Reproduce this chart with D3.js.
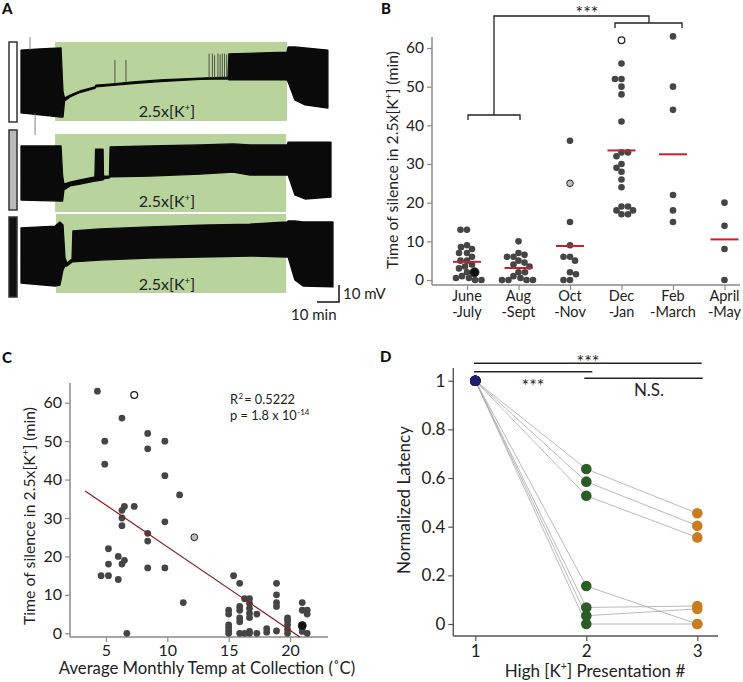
<!DOCTYPE html>
<html><head><meta charset="utf-8">
<script src="https://cdn.jsdelivr.net/npm/d3@7"></script>
<style>
body{margin:0;background:#fff;}
svg{display:block;font-family:Lato,"Open Sans",sans-serif;}
</style></head><body>
<svg id="fig" width="743" height="682"></svg>
<script>
// ---------------- Panel A data: envelopes [time (min), upper (mV), lower (mV)]
const traceSummer = [[0,-5.9,-42.9],[8.6,-5.3,-44.1],[18.2,-4.7,-45.3],[19.1,-30.6,-45.3],[19.8,-34.1,-35.9],[22.3,-32.4,-33.5],[26.8,-30.0,-30.9],[33.6,-27.6,-28.5],[34.1,-26.5,-27.6],[40.5,-25.9,-26.8],[50.9,-24.7,-25.6],[63.2,-23.5,-24.4],[81.4,-22.4,-23.2],[94.1,-21.8,-22.9],[94.5,-8.2,-23.5],[120.9,-7.1,-23.5],[121.4,-4.1,-24.7],[124.5,-4.1,-35.3],[129.1,-4.7,-38.2],[139.5,-5.9,-40]];
const traceAutumn = [[0,-9.4,-41.2],[18.2,-9.4,-41.8],[18.9,-26.5,-41.8],[19.5,-31.8,-35.3],[22.3,-30.6,-32.9],[26.8,-29.4,-31.8],[33.6,-27.6,-30.0],[33.9,-11.2,-30.0],[37.3,-11.2,-29.4],[37.5,-27.1,-28.8],[40.2,-27.1,-28.2],[40.5,-10,-27.6],[58.6,-9.4,-27.1],[81.4,-8.8,-25.9],[96.4,-8.2,-24.7],[104.1,-8.8,-26.5],[120.9,-8.8,-26.5],[121.4,-7.1,-26.5],[124.5,-7.1,-38.2],[129.1,-7.1,-40.6],[140.9,-7.1,-39.4]];
const traceWinter = [[0,-8.2,-40.6],[15.5,-7.1,-42.4],[17.7,-4.7,-41.8],[19.1,-6.5,-32.9],[20,-25.9,-30.6],[20.9,-28.8,-30.6],[23.2,-26.5,-28.2],[23.6,-10,-28.2],[35.9,-8.8,-27.1],[58.6,-7.6,-25.9],[81.4,-6.5,-25.3],[104.1,-5.9,-24.7],[120.9,-4.7,-25.3],[121.4,-4.1,-25.3],[124.5,-4.1,-38.8],[128.2,-4.7,-42.4],[141.8,-4.7,-42.9]];
const spikesSummer = [[4.1,1.8,-6],[6.4,-43,-55.9],[42.7,-11.8,-25.9],[47.7,-11.8,-25.3],[85.5,-8,-22.5],[87,-8,-22.5],[88,-9,-22.5],[89.5,-8,-22.5],[90.5,-8.5,-22.5],[91.5,-8,-22.5],[92.5,-8,-22.5],[93.5,-8.5,-22.5]];
const perfusionWindows = [[15.5,120.9],[15.5,120.5],[15.9,120.5]];

// ---------------- Panel B data
const categoriesB = ["June-July","Aug-Sept","Oct-Nov","Dec-Jan","Feb-March","April-May"];
const silenceJuneJuly = [13,13,9,8.5,8,7,7,6,5,5,4,3.5,3,2,1,0.5,0.5,0,0];
const silenceAugSept = [10,7,6.5,6,6,5,4.5,4,3.5,2,2,1,0.5,0,0,0,0];
const silenceOctNov = [36,15,9,6,6,5,2,1.5,0,0];
const silenceDecJan = [56,52,52,50,48,41,33,33,32,30,29,28,26,24,19,19,18,18,17,17];
const silenceFebMarch = [63,50,44,22,18,15];
const silenceAprilMay = [20,14,8,0];
const groupMeans = [4.7,3.1,8.8,33.5,32.5,10.5];
const highlightGroups = ["June-July","Oct-Nov","Dec-Jan"];
const highlightValues = [2,25,62];
const highlightKinds = ["black","gray","open"];
const yTicksB = [0,10,20,30,40,50,60];

// ---------------- Panel C data
const tempC = [4.3,6.3,8.4,4.9,9.8,8.4,4.9,9.8,11.0,6.5,6.3,7.3,6.3,6.3,8.4,9.8,8.4,5.2,6.0,6.5,5.2,6.3,8.4,9.8,4.6,5.2,6.0,11.3,6.7,
 15.4,15.9,15.0,15.0,15.0,15.0,15.0,15.0,15.9,15.9,15.9,15.9,15.9,16.3,16.3,16.7,16.7,16.7,16.7,16.7,16.7,16.7,17.3,17.3,18.1,18.1,18.9,18.9,18.9,18.9,18.9,19.8,19.8,19.8,19.8,19.8,21.0,21.0,21.0,21.0,21.4,21.4,21.4];
const silenceC = [63,56,52,50,50,48,44,41,36,33,32,33,30,28,26,29,24,22,20,19,18,18,17,17,15,15,14,8,0,
 15,13,6,5,2.2,1.5,0.7,0,7,6,4,3,0,9,0,9,7.8,6.5,5.2,4.1,0.5,0,5,0,1.2,0.3,13,10,8,7,0.6,4,3.2,2.2,1,0,8,6,1.5,0.5,6,5,0];
const highlightTempC = [21.0,12.2,7.3];
const highlightSilenceC = [2,25,62];
const regression = {slope:-2.17, intercept:44.2, from:3.3, to:20.8};
const xTicksC = [5,10,15,20];
const yTicksC = [0,10,20,30,40,50,60];

// ---------------- Panel D data
const presentations = [1,2,3];
const latencyP1 = [1,1,1,1,1,1,1];
const latencyP2 = [0.637,0.585,0.527,0.156,0.068,0.034,0];
const latencyP3 = [0.455,0.404,0.356,0,0.074,0.062,0];
const yTicksD = [0,0.2,0.4,0.6,0.8,1];

// =====================================================
const svg = d3.select("#fig");
const TXT = "#222";
function addK(t, before, after, size){
  t.append("tspan").text(before + "[K");
  t.append("tspan").attr("dy", -size*0.4).attr("font-size", size*0.62).text("+");
  t.append("tspan").attr("dy", size*0.4).text("]" + after);
}
function panelLabel(txt,x,y){
  svg.append("text").attr("x",x).attr("y",y).attr("font-weight",900).attr("font-size",15).attr("fill","#111").text(txt);
}
panelLabel("A",2,14); panelLabel("B",381,14); panelLabel("C",2,363); panelLabel("D",380,362);

// ---------------- Panel A
const gA = svg.append("g");
const xA = d3.scaleLinear().domain([0,140]).range([21,329]);
const rowTops = [40,130,214];
const greenY = [[42,121],[134,212],[214,293]];
const barY = [[42,122],[130,210],[217,297]];
const barFill = ["#fff","#bbb","#111"];
const traces = [traceSummer, traceAutumn, traceWinter];
const labelBase = [117,207,290];
traces.forEach((tr,i)=>{
  const yA = d3.scaleLinear().domain([0,-50]).range([rowTops[i], rowTops[i]+85]);
  gA.append("rect").attr("x",xA(perfusionWindows[i][0])).attr("y",greenY[i][0])
    .attr("width",xA(perfusionWindows[i][1])-xA(perfusionWindows[i][0])).attr("height",greenY[i][1]-greenY[i][0])
    .attr("fill","#b9d39c");
  gA.append("rect").attr("x",9).attr("y",barY[i][0]).attr("width",8).attr("height",barY[i][1]-barY[i][0])
    .attr("fill",barFill[i]).attr("stroke","#333").attr("stroke-width",1.5);
  const area = d3.area().x(d=>xA(d[0])).y0(d=>yA(d[2])).y1(d=>yA(d[1]));
  gA.append("path").datum(tr).attr("d",area).attr("fill","#0a0a0a").attr("stroke","#0a0a0a").attr("stroke-width",1.3).attr("stroke-linejoin","round");
  if(i===0){
    gA.selectAll(".spk").data(spikesSummer).join("line")
      .attr("x1",d=>xA(d[0])).attr("x2",d=>xA(d[0])).attr("y1",d=>yA(d[1])).attr("y2",d=>yA(d[2]))
      .attr("stroke",(d,j)=>j<2?"#666":"#333").attr("stroke-width",0.8);
  }
  const t = gA.append("text").attr("x",167).attr("y",labelBase[i]).attr("text-anchor","middle").attr("font-size",16).attr("fill",TXT);
  addK(t,"2.5x","",16);
});
// scale bar (10 min x 10 mV)
{
  const yS = d3.scaleLinear().domain([0,-50]).range([0,85]);
  const bx = 339, by = 302;
  const w = xA(10)-xA(0), h = yS(-10)-yS(0);
  gA.append("path").attr("d",`M${bx-w},${by}H${bx}V${by-h}`).attr("fill","none").attr("stroke","#111").attr("stroke-width",1.5);
  gA.append("text").attr("x",bx+4).attr("y",by-3).attr("font-size",15).attr("fill",TXT).text("10 mV");
  gA.append("text").attr("x",291).attr("y",320).attr("font-size",15).attr("fill",TXT).text("10 min");
}

// ---------------- Panel B
const gB = svg.append("g");
const xB = d3.scalePoint().domain(categoriesB).range([467,724.5]);
const yB = d3.scaleLinear().domain([0,60]).range([280,48]);
const axisGray = "#8a8a8a";
gB.append("line").attr("x1",432).attr("x2",432).attr("y1",285).attr("y2",37).attr("stroke",axisGray).attr("stroke-width",1.5);
gB.append("line").attr("x1",432).attr("x2",740).attr("y1",285).attr("y2",285).attr("stroke",axisGray).attr("stroke-width",1.5);
const ayB = gB.append("g").attr("transform","translate(432,0)").call(d3.axisLeft(yB).tickValues(yTicksB).tickSize(5).tickPadding(3));
ayB.select(".domain").remove();
ayB.selectAll("line").attr("stroke",axisGray).attr("stroke-width",1.2);
ayB.selectAll("text").attr("font-size",15.5).attr("fill",TXT).attr("font-family","Lato");
const axB = gB.append("g").attr("transform","translate(0,285)").call(d3.axisBottom(xB).tickSize(5));
axB.select(".domain").remove();
axB.selectAll("line").attr("stroke",axisGray).attr("stroke-width",1.2);
axB.selectAll("text").remove();
categoriesB.forEach(c=>{
  const parts = c.split("-");
  const t = gB.append("text").attr("text-anchor","middle").attr("font-size",14.5).attr("fill",TXT);
  t.append("tspan").attr("x",xB(c)).attr("y",301).text(parts[0]);
  t.append("tspan").attr("x",xB(c)).attr("y",317).text("-"+parts[1]);
});
{
  const t = gB.append("text").attr("transform","translate(398,160) rotate(-90)").attr("text-anchor","middle").attr("font-size",15.8).attr("fill",TXT);
  addK(t,"Time of silence in 2.5x"," (min)",15.8);
}
// beeswarm layout
const groupsB = [silenceJuneJuly,silenceAugSept,silenceOctNov,silenceDecJan,silenceFebMarch,silenceAprilMay];
const rB = 3.3;
const placedB = [];
categoriesB.forEach((cat,gi)=>{
  const pts = groupsB[gi].map(v=>({v,kind:"normal"}));
  highlightGroups.forEach((hg,hi)=>{ if(hg===cat) pts.push({v:highlightValues[hi],kind:highlightKinds[hi]}); });
  pts.sort((a,b)=>b.v-a.v);
  const cx = xB(cat); const placed=[];
  pts.forEach((p,k)=>{
    const py = yB(p.v); const rr = p.kind==="black"?4.5:rB;
    let off = 0, found=false;
    for(let s=0;s<40 && !found;s+=0.5){
      const cands = (k%2===0)?[s,-s]:[-s,s];
      for(const o of cands){
        if(placed.every(q=>Math.hypot(q.x-(cx+o),q.y-py) >= (q.r+rr)*0.92)){ off=o; found=true; break; }
      }
    }
    const obj={x:cx+off,y:py,r:rr,kind:p.kind};
    placed.push(obj); placedB.push(obj);
  });
});
const fillFor = k=> k==="black"?"#111": k==="gray"?"#bdbdbd": k==="open"?"#fff":"#454545";
gB.selectAll(".ptB").data(placedB).join("circle")
  .attr("cx",d=>d.x).attr("cy",d=>d.y).attr("r",d=>d.r)
  .attr("fill",d=>fillFor(d.kind)).attr("stroke",d=>d.kind==="normal"?"none":"#222").attr("stroke-width",d=>d.kind==="open"?1.3:1);
gB.selectAll(".meanB").data(groupMeans).join("line")
  .attr("x1",(d,i)=>xB(categoriesB[i])-14).attr("x2",(d,i)=>xB(categoriesB[i])+14)
  .attr("y1",d=>yB(d)).attr("y2",d=>yB(d)).attr("stroke","#c8202a").attr("stroke-width",2);
// significance brackets
gB.append("path").attr("d","M468,120V115H520V120M494,115V16H649V23M615,28V23H682V28")
  .attr("fill","none").attr("stroke","#222").attr("stroke-width",1.3);
gB.append("text").attr("x",587).attr("y",19).attr("text-anchor","middle").attr("font-size",18).attr("fill",TXT).text("***");

// ---------------- Panel C
const gC = svg.append("g");
const xC = d3.scaleLinear().domain([5,20]).range([106,290]);
const yC = d3.scaleLinear().domain([0,60]).range([633.3,402.7]);
gC.append("line").attr("x1",70).attr("x2",70).attr("y1",637).attr("y2",383).attr("stroke",axisGray).attr("stroke-width",1.5);
gC.append("line").attr("x1",70).attr("x2",328).attr("y1",637).attr("y2",637).attr("stroke",axisGray).attr("stroke-width",1.5);
const ayC = gC.append("g").attr("transform","translate(70,0)").call(d3.axisLeft(yC).tickValues(yTicksC).tickSize(5).tickPadding(3));
ayC.select(".domain").remove();
ayC.selectAll("line").attr("stroke",axisGray).attr("stroke-width",1.2);
ayC.selectAll("text").attr("font-size",16).attr("fill",TXT).attr("font-family","Lato");
const axC = gC.append("g").attr("transform","translate(0,637)").call(d3.axisBottom(xC).tickValues(xTicksC).tickSize(5).tickPadding(3));
axC.select(".domain").remove();
axC.selectAll("line").attr("stroke",axisGray).attr("stroke-width",1.2);
axC.selectAll("text").attr("font-size",16).attr("fill",TXT).attr("font-family","Lato");
gC.append("text").attr("x",207).attr("y",674).attr("text-anchor","middle").attr("font-size",16.7).attr("fill",TXT).text("Average Monthly Temp at Collection (˚C)");
{
  const t = gC.append("text").attr("transform","translate(35,516) rotate(-90)").attr("text-anchor","middle").attr("font-size",15.8).attr("fill",TXT);
  addK(t,"Time of silence in 2.5x"," (min)",15.8);
}
gC.selectAll(".ptC").data(tempC).join("circle")
  .attr("cx",d=>xC(d)).attr("cy",(d,i)=>yC(silenceC[i])).attr("r",3.4).attr("fill","#454545");
const hk = ["black","gray","open"];
gC.selectAll(".hC").data(highlightTempC).join("circle")
  .attr("cx",d=>xC(d)).attr("cy",(d,i)=>yC(highlightSilenceC[i])).attr("r",(d,i)=>hk[i]==="black"?4:3.4)
  .attr("fill",(d,i)=>fillFor(hk[i])).attr("stroke","#222").attr("stroke-width",(d,i)=>hk[i]==="open"?1.3:1);
gC.append("line")
  .attr("x1",xC(regression.from)).attr("y1",yC(regression.intercept+regression.slope*regression.from))
  .attr("x2",xC(regression.to)).attr("y2",yC(regression.intercept+regression.slope*regression.to))
  .attr("stroke","#8b1c1c").attr("stroke-width",1.2);
// stats text: separate text elements for base and superscripts
function textWithSup(g, x, y, base, sup, after, size){
  const a = g.append("text").attr("x",x).attr("y",y).attr("font-size",size).attr("fill",TXT).text(base);
  const w1 = a.node().getComputedTextLength();
  const s = g.append("text").attr("x",x+w1+0.5).attr("y",y-4.5).attr("font-size",size*0.62).attr("fill",TXT).text(sup);
  if(after){
    const w2 = s.node().getComputedTextLength();
    g.append("text").attr("x",x+w1+w2+1.5).attr("y",y).attr("font-size",size).attr("fill",TXT).text(after);
  }
}
textWithSup(gC,230,403.5,"R","2"," = 0.5222",12.8);
textWithSup(gC,230,419.5,"p = 1.8 x 10","-14","",12.8);

// ---------------- Panel D
const gD = svg.append("g");
const xD = d3.scaleLinear().domain([1,3]).range([475.3,697.3]);
const yD = d3.scaleLinear().domain([0,1]).range([624,380.7]);
const axisDark = "#555";
gD.append("line").attr("x1",453.3).attr("x2",453.3).attr("y1",636).attr("y2",368).attr("stroke",axisDark).attr("stroke-width",1.4);
gD.append("line").attr("x1",453.3).attr("x2",718).attr("y1",636).attr("y2",636).attr("stroke",axisDark).attr("stroke-width",1.4);
const ayD = gD.append("g").attr("transform","translate(453.3,0)").call(d3.axisLeft(yD).tickValues(yTicksD).tickSize(5).tickPadding(3)
  .tickFormat(d=> (d===0||d===1)? String(d) : d.toFixed(1)));
ayD.select(".domain").remove();
ayD.selectAll("line").attr("stroke",axisDark).attr("stroke-width",1.2);
ayD.selectAll("text").attr("font-size",17).attr("fill",TXT).attr("font-family","Lato");
const axD = gD.append("g").attr("transform","translate(0,636)").call(d3.axisBottom(xD).tickValues(presentations).tickSize(5).tickPadding(4).tickFormat(d3.format("d")));
axD.select(".domain").remove();
axD.selectAll("line").attr("stroke",axisDark).attr("stroke-width",1.2);
axD.selectAll("text").attr("font-size",17).attr("fill",TXT).attr("font-family","Lato");
{
  const t = gD.append("text").attr("x",595).attr("y",677).attr("text-anchor","middle").attr("font-size",17).attr("fill",TXT);
  addK(t,"High "," Presentation #",17);
}
gD.append("text").attr("transform","translate(410,500) rotate(-90)").attr("text-anchor","middle").attr("font-size",17).attr("fill",TXT).text("Normalized Latency");
// connecting lines
latencyP1.forEach((v,i)=>{
  gD.append("path").attr("d",d3.line()([[xD(1),yD(v)],[xD(2),yD(latencyP2[i])],[xD(3),yD(latencyP3[i])]]))
    .attr("fill","none").attr("stroke","#a8a8a8").attr("stroke-width",0.8);
});
const dotsD = [[latencyP1,1,"#1f1b6e"],[latencyP2,2,"#2b5e27"],[latencyP3,3,"#c97d1f"]];
dotsD.forEach(([arr,p,col])=>{
  gD.selectAll(".d"+p).data(arr).join("circle").attr("cx",xD(p)).attr("cy",d=>yD(d)).attr("r",5.3).attr("fill",col);
});
// significance lines
gD.append("path").attr("d","M474,363.3H701.7M474,371.7H592.3M584.3,378.3H702.7").attr("stroke","#222").attr("stroke-width",1.5).attr("fill","none");
gD.append("text").attr("x",588).attr("y",368).attr("text-anchor","middle").attr("font-size",18).attr("fill",TXT).text("***");
gD.append("text").attr("x",533).attr("y",392).attr("text-anchor","middle").attr("font-size",18).attr("fill",TXT).text("***");
gD.append("text").attr("x",649).attr("y",396).attr("text-anchor","middle").attr("font-size",17).attr("fill",TXT).text("N.S.");
</script>
</body></html>
